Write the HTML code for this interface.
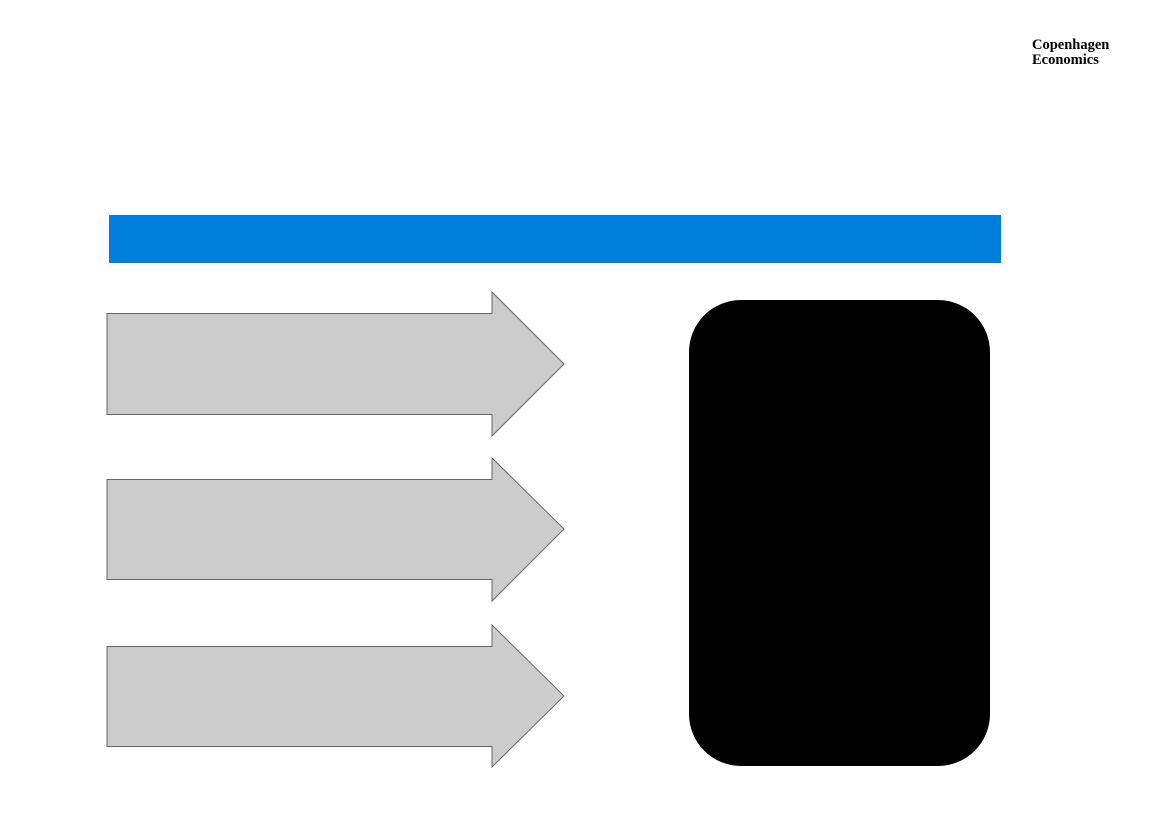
<!DOCTYPE html>
<html><head><meta charset="utf-8"><style>
html,body{margin:0;padding:0;background:#fff;width:1170px;height:827px;overflow:hidden}
.logo{position:absolute;left:1032px;top:38px;font-family:"Liberation Serif",serif;font-weight:bold;font-size:14.5px;line-height:15px;color:#000}
</style></head><body>
<div class="logo">Copenhagen<br>Economics</div>
<svg width="1170" height="827" style="position:absolute;left:0;top:0">
<rect x="109" y="215" width="892" height="48" fill="#007EDC"/>
<g fill="#CCCCCC" stroke="#666" stroke-width="1">
<polygon points="107,313.5 492,313.5 492,292 564,364 492,436 492,414.5 107,414.5"/>
<polygon points="107,479.5 492,479.5 492,458 564,529 492,601 492,579.5 107,579.5"/>
<polygon points="107,646.5 492,646.5 492,625 564,696 492,767 492,746.5 107,746.5"/>
</g>
<rect x="689" y="300" width="301" height="466" rx="52" ry="52" fill="#000"/>
</svg>
</body></html>
